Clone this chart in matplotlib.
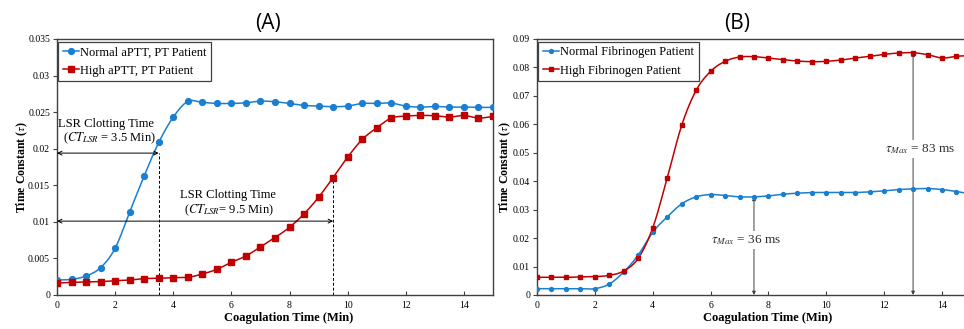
import numpy as np
import matplotlib
matplotlib.use("Agg")
import matplotlib.pyplot as plt

plt.rcParams['font.family'] = ['Liberation Serif', 'DejaVu Serif']
plt.rcParams['mathtext.fontset'] = 'stix'

# time axis, every half minute
t_min = [0, 0.5, 1, 1.5, 2, 2.5, 3, 3.5, 4, 4.5, 5, 5.5, 6, 6.5, 7, 7.5,
         8, 8.5, 9, 9.5, 10, 10.5, 11, 11.5, 12, 12.5, 13, 13.5, 14, 14.5, 15]

# panel A
normal_aptt = [0.00205, 0.00214, 0.0026, 0.00374, 0.00639, 0.01136, 0.01629, 0.02085,
               0.02432, 0.02647, 0.02633, 0.02619, 0.02619, 0.02628, 0.02651, 0.02642,
               0.02619, 0.02592, 0.02583, 0.02574, 0.02583, 0.02619, 0.02619, 0.02624,
               0.02583, 0.02569, 0.02578, 0.02569, 0.02569, 0.02565, 0.02565]
high_aptt = [0.00164, 0.00173, 0.00178, 0.00183, 0.00196, 0.00205, 0.00224, 0.00228,
             0.00237, 0.00242, 0.00287, 0.00351, 0.00447, 0.00534, 0.00657, 0.00785,
             0.00926, 0.01109, 0.01337, 0.01606, 0.01885, 0.02127, 0.02286, 0.02419,
             0.02446, 0.02455, 0.02451, 0.02432, 0.02455, 0.02419, 0.02441]

# panel B
normal_fib = [0.00223, 0.00223, 0.00223, 0.00223, 0.00223, 0.00387, 0.0081, 0.01408,
              0.02206, 0.02746, 0.03203, 0.0345, 0.03532, 0.03497, 0.0345, 0.0345,
              0.03485, 0.03544, 0.03579, 0.03602, 0.03602, 0.03602, 0.03602, 0.03626,
              0.03661, 0.03708, 0.03731, 0.03743, 0.03708, 0.03638, 0.0355]
high_fib = [0.00622, 0.00622, 0.00622, 0.00634, 0.00645, 0.00692, 0.00845, 0.01291,
            0.02359, 0.04107, 0.05961, 0.07193, 0.07862, 0.08214, 0.08367, 0.08378,
            0.08331, 0.08273, 0.08226, 0.08202, 0.08214, 0.08261, 0.08331, 0.0839,
            0.0846, 0.08507, 0.08519, 0.08449, 0.08331, 0.0839, 0.08425]

ticks_a = [0, 0.005, 0.01, 0.015, 0.02, 0.025, 0.03, 0.035]
ticklabels_a = ["0", "0.005", "0.01", "0.015", "0.02", "0.025", "0.03", "0.035"]
ticks_b = [0, 0.01, 0.02, 0.03, 0.04, 0.05, 0.06, 0.07, 0.08, 0.09]
ticklabels_b = ["0", "0.01", "0.02", "0.03", "0.04", "0.05", "0.06", "0.07", "0.08", "0.09"]
xticks = [0, 2, 4, 6, 8, 10, 12, 14]

BLUE = "#1a7fd0"
RED = "#c00000"


def smooth(x, y, n=12):
    # catmull-rom curve through the points, like Excel's smoothed line
    x = np.asarray(x, float); y = np.asarray(y, float)
    px = np.concatenate([[2*x[0]-x[1]], x, [2*x[-1]-x[-2]]])
    py = np.concatenate([[2*y[0]-y[1]], y, [2*y[-1]-y[-2]]])
    s = np.linspace(0, 1, n, endpoint=False)
    xs, ys = [], []
    for i in range(1, len(px)-2):
        for arr, out in ((px, xs), (py, ys)):
            p0, p1, p2, p3 = arr[i-1], arr[i], arr[i+1], arr[i+2]
            out.extend(0.5*((2*p1) + (-p0+p2)*s + (2*p0-5*p1+4*p2-p3)*s**2
                            + (-p0+3*p1-3*p2+p3)*s**3))
    xs.append(x[-1]); ys.append(y[-1])
    return np.array(xs), np.array(ys)


def style_axes(ax, yticks, ylabels, ylab_x, xlab_x):
    ax.set_yticks(yticks)
    ax.set_yticklabels(ylabels)
    ax.set_xticks(xticks)
    ax.tick_params(axis='y', direction='out', length=3, labelsize=7, pad=2, color='#404040')
    ax.tick_params(axis='x', direction='in', length=3, labelsize=7, pad=4, color='#404040')
    for sp in ax.spines.values():
        sp.set_color('#404040'); sp.set_linewidth(1.0)
    ax.set_xlabel("Coagulation Time (Min)", fontsize=9, fontweight='bold')
    ax.set_ylabel(r"Time Constant ($\tau$)", fontsize=8.5, fontweight='bold')
    ax.yaxis.set_label_coords(ylab_x, 0.5)
    ax.xaxis.set_label_coords(xlab_x, -0.066)


def add_legend(ax):
    leg = ax.legend(loc='upper left', bbox_to_anchor=(0.003, 0.988), fontsize=9,
                    handlelength=1.3, handletextpad=0.1, labelspacing=0.5,
                    borderpad=0.35, borderaxespad=0, fancybox=False, framealpha=1)
    leg.get_frame().set_edgecolor('#404040')
    leg.get_frame().set_linewidth(0.9)


fig = plt.figure(figsize=(9.64, 3.29), dpi=100)
axA = fig.add_axes([57/964, 34/329, 436/964, 256/329])
axB = fig.add_axes([537/964, 34/329, 427/964, 256/329])

# ---- panel A
for ys, col, mk, lab in ((normal_aptt, BLUE, 'o', "Normal aPTT, PT Patient"),
                         (high_aptt, RED, 's', "High aPTT, PT Patient")):
    sx, sy = smooth(t_min, ys)
    axA.plot(sx, sy, color=col, lw=1.1, zorder=3)
    axA.plot(t_min, ys, linestyle='none', marker=mk, ms=4.2, color=col, zorder=4)
    axA.plot([], [], color=col, lw=1.1, marker=mk, ms=4.2, label=lab)
axA.set_xlim(0, 15)
axA.set_ylim(0, 0.035)
style_axes(axA, ticks_a, ticklabels_a, -0.0615, 0.532)

axA.plot([3.5, 3.5], [0, 0.0194], color='black', lw=0.7, ls=(0, (3, 2)), zorder=2)
axA.plot([9.5, 9.5], [0, 0.0160], color='black', lw=0.7, ls=(0, (3, 2)), zorder=2)
axA.annotate("", xy=(0, 0.0194), xytext=(3.5, 0.0194),
             arrowprops=dict(arrowstyle='<->', color='black', lw=0.7, shrinkA=0, shrinkB=0,
                             mutation_scale=7))
axA.annotate("", xy=(0, 0.0101), xytext=(9.5, 0.0101),
             arrowprops=dict(arrowstyle='<->', color='black', lw=0.7, shrinkA=0, shrinkB=0,
                             mutation_scale=7))
axA.text(1.69, 0.0234, "LSR Clotting Time", ha='center', va='center', fontsize=9)
axA.text(1.79, 0.0214, r"($CT_{LSR}$ = 3.5 Min)", ha='center', va='center', fontsize=9)
axA.text(5.87, 0.0137, "LSR Clotting Time", ha='center', va='center', fontsize=9)
axA.text(5.93, 0.0116, r"($CT_{LSR}$= 9.5 Min)", ha='center', va='center', fontsize=9)
add_legend(axA)

# ---- panel B
for ys, col, mk, lab in ((normal_fib, BLUE, 'o', "Normal Fibrinogen Patient"),
                         (high_fib, RED, 's', "High Fibrinogen Patient")):
    sx, sy = smooth(t_min, ys)
    axB.plot(sx, sy, color=col, lw=1.1, zorder=3)
    axB.plot(t_min, ys, linestyle='none', marker=mk, ms=2.8, color=col, zorder=4)
    axB.plot([], [], color=col, lw=1.1, marker=mk, ms=2.8, label=lab)
axB.set_xlim(0, 14.76)
axB.set_ylim(0, 0.09)
style_axes(axB, ticks_b, ticklabels_b, -0.056, 0.541)
axB.spines['right'].set_visible(False)

axB.annotate("", xy=(7.5, 0.0345), xytext=(7.5, 0),
             arrowprops=dict(arrowstyle='<|-|>', color='#404040', lw=0.7, shrinkA=0, shrinkB=0,
                             mutation_scale=5), zorder=2)
axB.annotate("", xy=(13.0, 0.0852), xytext=(13.0, 0),
             arrowprops=dict(arrowstyle='<|-|>', color='#404040', lw=0.7, shrinkA=0, shrinkB=0,
                             mutation_scale=5), zorder=2)
axB.text(7.22, 0.0194, r"$\tau_{Max}$ = 36 ms", ha='center', va='center', fontsize=9.5,
         color='#303030', bbox=dict(facecolor='white', edgecolor='none', pad=1.5), zorder=3)
axB.text(13.23, 0.0513, r"$\tau_{Max}$ = 83 ms", ha='center', va='center', fontsize=9.5,
         color='#303030', bbox=dict(facecolor='white', edgecolor='none', pad=1.5), zorder=3)
add_legend(axB)

fig.text(268/964, 1 - 23/329, "(A)", ha='center', va='center', fontsize=15,
         family=['Open Sans', 'DejaVu Sans'])
fig.text(737/964, 1 - 23/329, "(B)", ha='center', va='center', fontsize=15,
         family=['Open Sans', 'DejaVu Sans'])

fig.savefig("out.png", dpi=100)
